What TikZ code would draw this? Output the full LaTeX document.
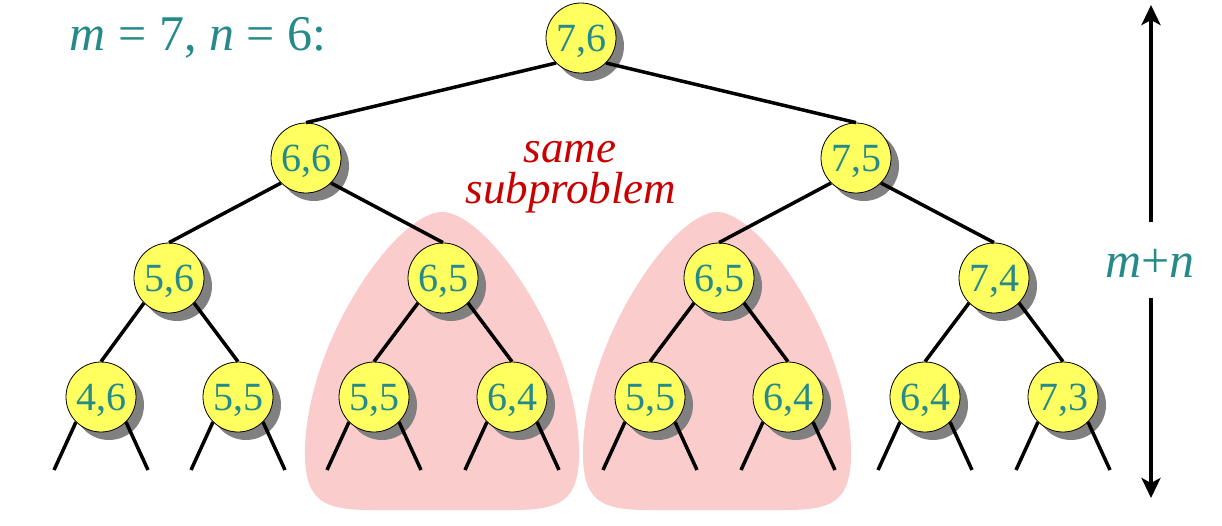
\documentclass[tikz,border=0pt]{standalone}
\usepackage{fontspec}
\setmainfont{Liberation Serif}
\newfontfamily\lserif{Liberation Serif}
\usetikzlibrary{shadows,arrows.meta}
\definecolor{nodeyellow}{RGB}{255,255,95}
\definecolor{tealtext}{RGB}{38,138,138}
\definecolor{redlab}{RGB}{200,0,0}
\definecolor{blobpink}{RGB}{251,204,204}
\definecolor{shadowgray}{RGB}{128,128,128}
\tikzset{
  tn/.style={circle, draw=black, line width=0.8pt, fill=nodeyellow,
    minimum size=70pt, inner sep=0pt, text=tealtext, text depth=0pt,
    font=\lserif\fontsize{40}{40}\selectfont,
    drop shadow={shadow xshift=8pt, shadow yshift=-8pt, fill=shadowgray, opacity=1}},
  edge/.style={line width=3.5pt, black},
  blob/.style={fill=blobpink},
  arr/.style={line width=4pt, black, -{Stealth[length=20pt,width=19pt,inset=5pt]}},
  bigtext/.style={text=tealtext, font=\lserif\fontsize{50}{50}\selectfont, anchor=base, inner sep=0pt},
  redtext/.style={text=redlab, font=\lserif\fontsize{45}{45}\selectfont\itshape, anchor=base, inner sep=0pt}
}
\begin{document}
\begin{tikzpicture}[x=1pt,y=-1pt]
\useasboundingbox (0,0) rectangle (1222,525);
% blobs
\foreach \cx/\s in {442/1,717/0.978}{
  \fill[blob, shift={(\cx,0)}, xscale=\s] (0,212) .. controls (45,212) and (135,340) .. (137,450)
    .. controls (138,502) and (118,510) .. (70,510) -- (-70,510)
    .. controls (-118,510) and (-138,502) .. (-137,450)
    .. controls (-135,340) and (-45,212) .. (0,212) -- cycle;
}
% labels
\node[bigtext] (title) at (198,50) {\textit{m} = 7, \textit{n} = 6:};
\node[redtext] (same) at (570,162) {same};
\node[redtext] (sub) at (571,203) {subproblem};
\node[bigtext] (mn) at (1150,277) {\textit{m}+\textit{n}};
% nodes
\node[tn] (r) at (581,38) {7,6};
\node[tn] (a) at (306,158) {6,6};
\node[tn] (b) at (856,158) {7,5};
\node[tn] (aa) at (169,278) {5,6};
\node[tn] (ab) at (443,278) {6,5};
\node[tn] (ba) at (719,278) {6,5};
\node[tn] (bb) at (994,278) {7,4};
\node[tn] (l1) at (101,397) {4,6};
\node[tn] (l2) at (238,397) {5,5};
\node[tn] (l3) at (374,397) {5,5};
\node[tn] (l4) at (512,397) {6,4};
\node[tn] (l5) at (650,397) {5,5};
\node[tn] (l6) at (788,397) {6,4};
\node[tn] (l7) at (925,397) {6,4};
\node[tn] (l8) at (1063,397) {7,3};
% edges
\draw[edge] (r.south west) -- (a.north);
\draw[edge] (r.south east) -- (b.north);
\draw[edge] (a.south west) -- (aa.north);
\draw[edge] (a.south east) -- (ab.north);
\draw[edge] (b.south west) -- (ba.north);
\draw[edge] (b.south east) -- (bb.north);
\draw[edge] (aa.south west) -- (l1.north);
\draw[edge] (aa.south east) -- (l2.north);
\draw[edge] (ab.south west) -- (l3.north);
\draw[edge] (ab.south east) -- (l4.north);
\draw[edge] (ba.south west) -- (l5.north);
\draw[edge] (ba.south east) -- (l6.north);
\draw[edge] (bb.south west) -- (l7.north);
\draw[edge] (bb.south east) -- (l8.north);
% leaf stubs
\foreach \n/\x in {l1/101,l2/238,l3/374,l4/512,l5/650,l6/788,l7/925,l8/1063}{
  \coordinate (\n L) at (\x-47,470);
  \coordinate (\n R) at (\x+47,470);
  \draw[edge] (\n.south west) -- (\n L);
  \draw[edge] (\n.south east) -- (\n R);
}
% height arrow
\coordinate (gtop) at (1151,222);
\coordinate (atop) at (1151,5);
\coordinate (gbot) at (1151,298);
\coordinate (abot) at (1151,498);
\draw[arr] (gtop) -- (atop);
\draw[arr] (gbot) -- (abot);
\end{tikzpicture}
\end{document}
